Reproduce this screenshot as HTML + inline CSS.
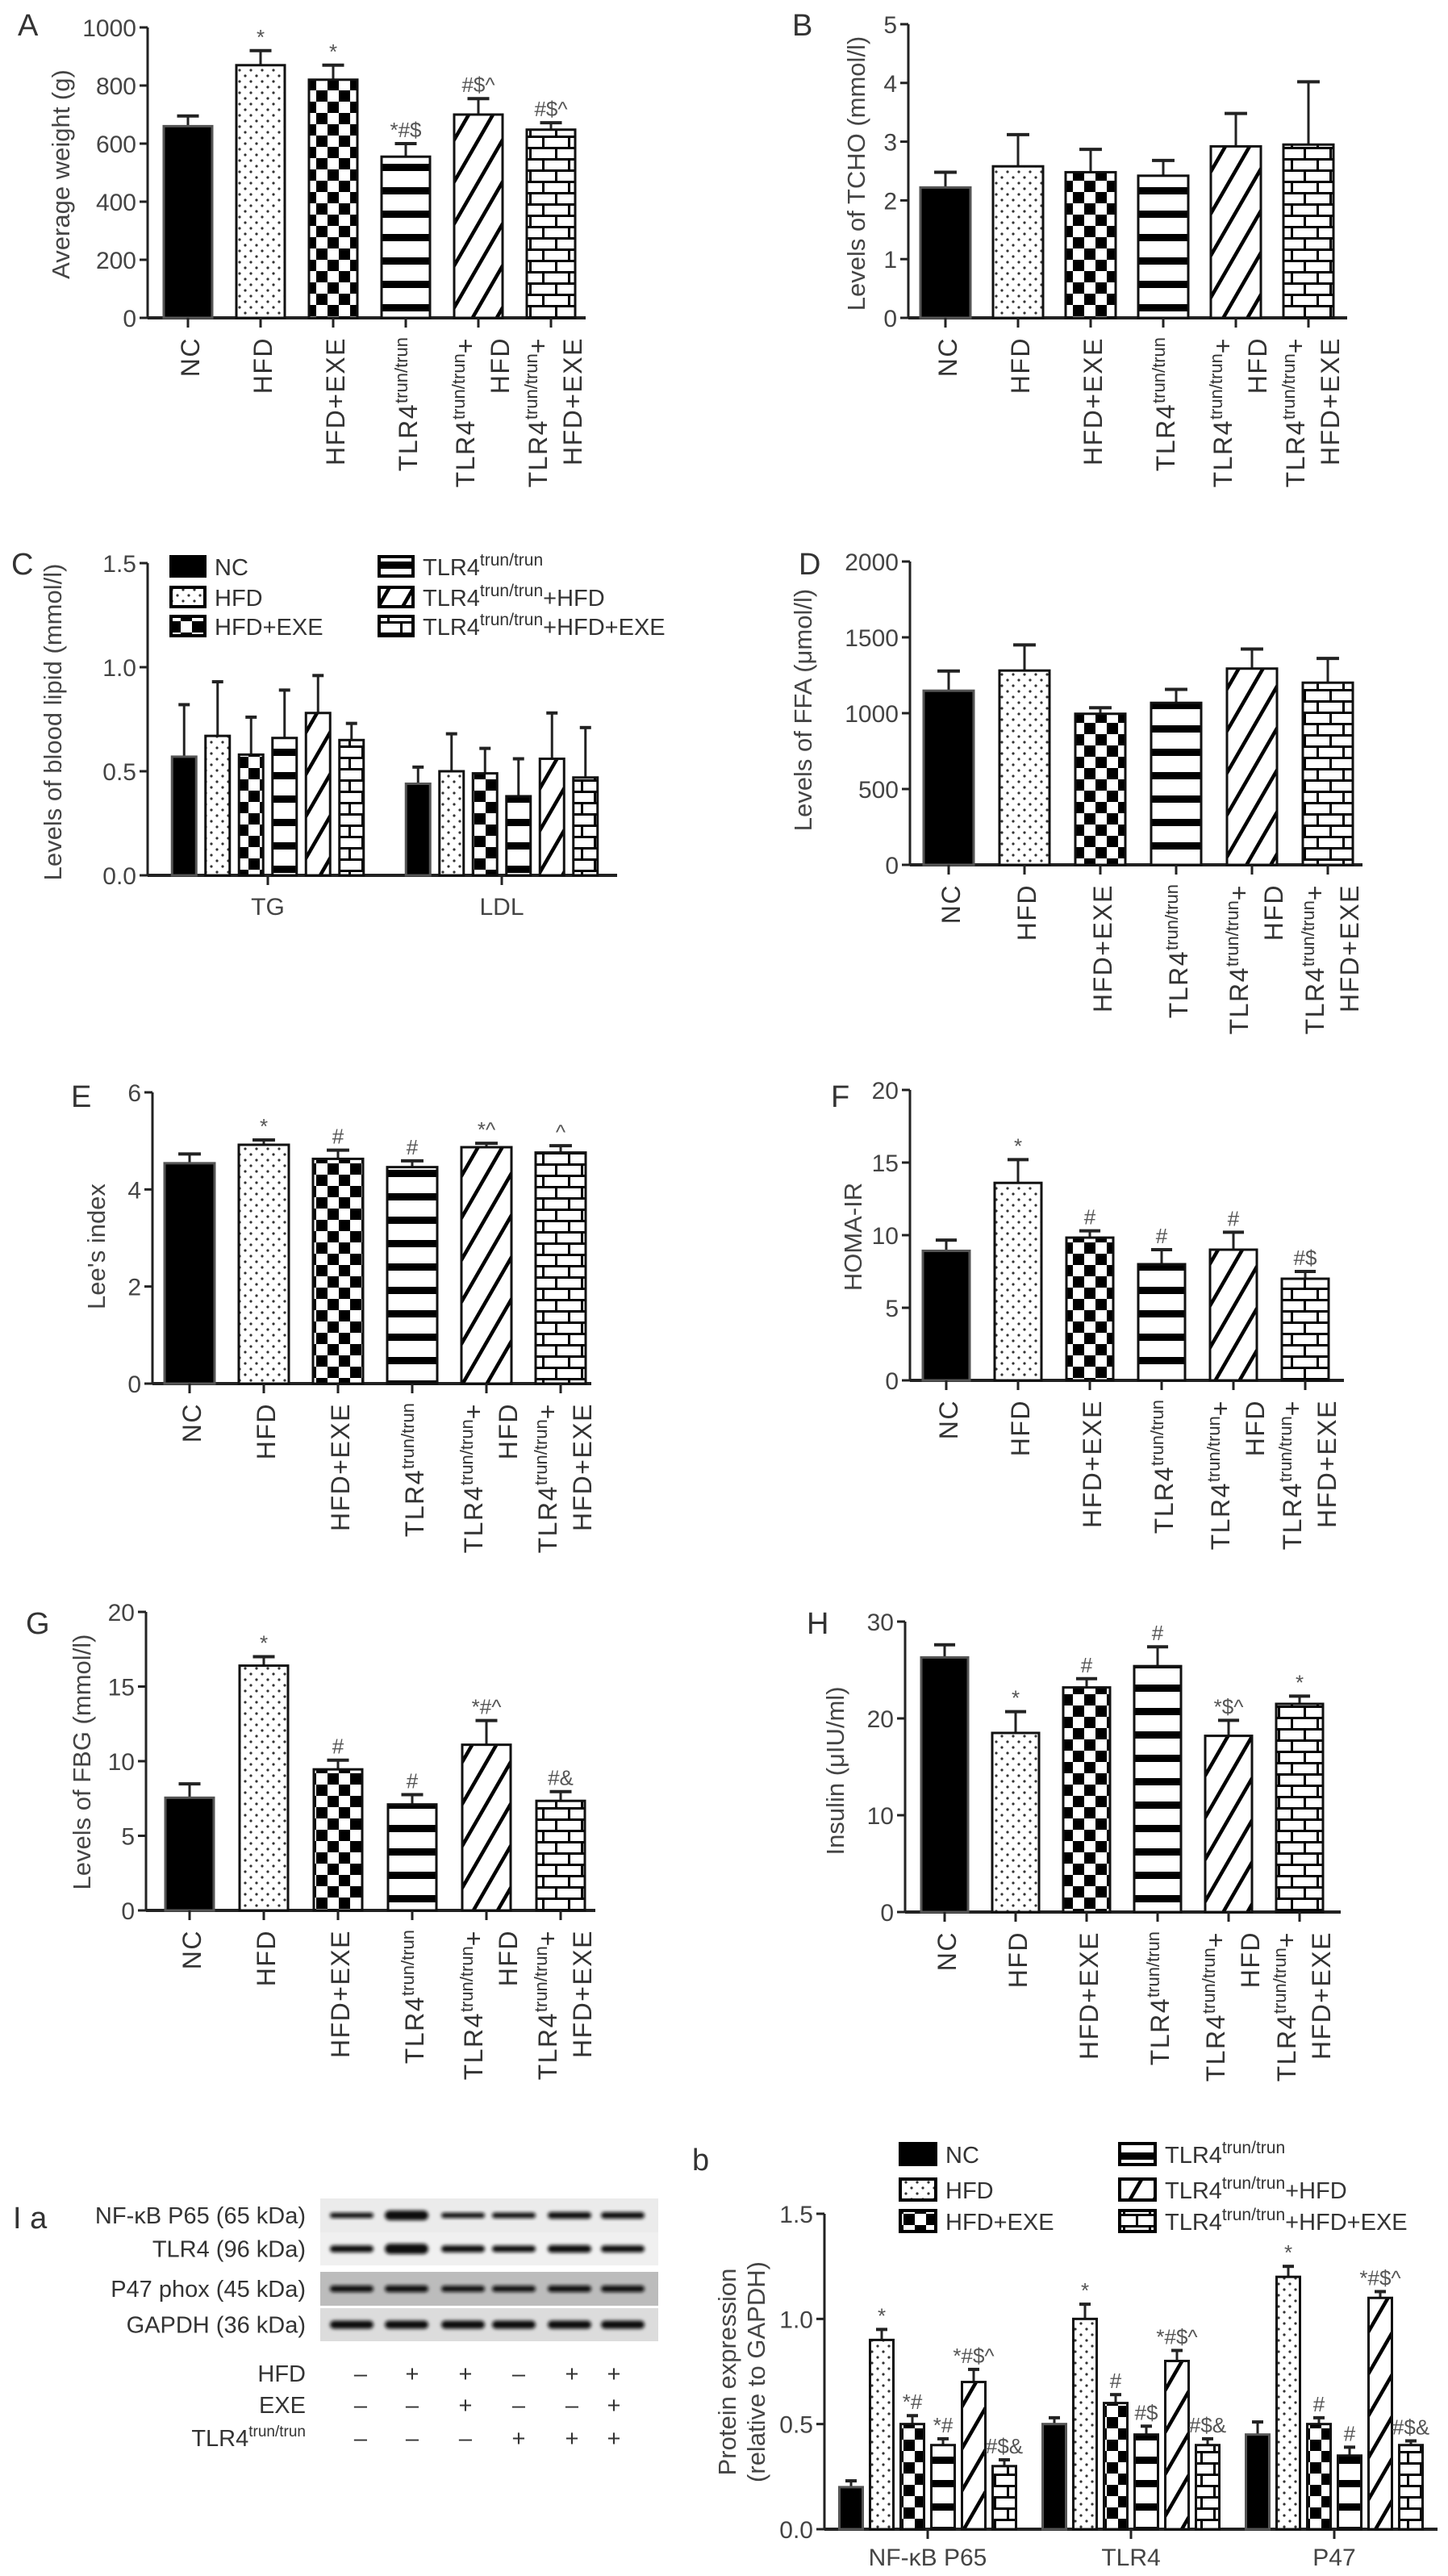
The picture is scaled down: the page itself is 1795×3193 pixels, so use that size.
<!DOCTYPE html>
<html><head><meta charset="utf-8">
<style>
html,body{margin:0;padding:0;background:#fff;}
svg{display:block;font-family:"Liberation Sans",sans-serif;}
.tk{font-size:30px;fill:#444;}
.ttl{font-size:31px;fill:#444;}
.lab{font-size:32px;fill:#333;letter-spacing:1.5px;}
.ann{font-size:26px;fill:#555;}
.pl{font-size:38px;fill:#333;}
.leg{font-size:29px;fill:#333;}
</style></head>
<body>
<svg id="fig" width="1795" height="3193" viewBox="0 0 1795 3193" xmlns="http://www.w3.org/2000/svg">
<defs>
<pattern id="p-dots" patternUnits="userSpaceOnUse" width="14" height="14"><rect width="14" height="14" fill="#fff"/><circle cx="3" cy="3" r="1.6" fill="#333"/><circle cx="10" cy="10" r="1.6" fill="#333"/></pattern>
<pattern id="p-check" patternUnits="userSpaceOnUse" width="28" height="28"><rect width="28" height="28" fill="#fff"/><rect x="0" y="0" width="14" height="14" fill="#000"/><rect x="14" y="14" width="14" height="14" fill="#000"/></pattern>
<pattern id="p-hstripe" patternUnits="userSpaceOnUse" width="20" height="29"><rect width="20" height="29" fill="#fff"/><rect x="0" y="0" width="20" height="9" fill="#000"/></pattern>
<pattern id="p-diag" patternUnits="userSpaceOnUse" width="26" height="26" patternTransform="rotate(30)"><rect width="26" height="26" fill="#fff"/><rect x="0" y="0" width="4.5" height="26" fill="#000"/></pattern>
<pattern id="p-brick" patternUnits="userSpaceOnUse" width="32" height="28"><rect width="32" height="28" fill="#fff"/><rect x="0" y="0" width="32" height="3" fill="#000"/><rect x="0" y="14" width="32" height="3" fill="#000"/><rect x="0" y="0" width="3" height="14" fill="#000"/><rect x="16" y="14" width="3" height="14" fill="#000"/></pattern>
<filter id="blur" x="-20%" y="-50%" width="140%" height="200%"><feGaussianBlur stdDeviation="2"/></filter>
</defs>
<g id="root"></g>
</svg>
<script>
// ---------- data ----------
const groupNames = ["NC","HFD","HFD+EXE","TLR4trun/trun","TLR4trun/trun+HFD","TLR4trun/trun+HFD+EXE"];
const weightVals = [660, 870, 820, 555, 700, 648];
const weightErr = [695, 920, 870, 600, 755, 672];
const weightAnn = ["", "*", "*", "*#$", "#$^", "#$^"];
const weightTicks = [0, 200, 400, 600, 800, 1000];
const tchoVals = [2.22, 2.58, 2.48, 2.42, 2.92, 2.95];
const tchoErr = [2.48, 3.12, 2.87, 2.68, 3.48, 4.02];
const tchoTicks = [0, 1, 2, 3, 4, 5];
const lipidCats = ["TG", "LDL"];
const tgVals = [0.57, 0.67, 0.58, 0.66, 0.78, 0.65];
const tgErr = [0.82, 0.93, 0.76, 0.89, 0.96, 0.73];
const ldlVals = [0.44, 0.50, 0.49, 0.38, 0.56, 0.47];
const ldlErr = [0.52, 0.68, 0.61, 0.56, 0.78, 0.71];
const lipidTicks = ["0.0", "0.5", "1.0", "1.5"];
const ffaVals = [1148, 1281, 996, 1068, 1294, 1201];
const ffaErr = [1278, 1450, 1036, 1157, 1423, 1361];
const ffaTicks = [0, 500, 1000, 1500, 2000];
const leeVals = [4.54, 4.92, 4.63, 4.46, 4.87, 4.76];
const leeErr = [4.73, 5.02, 4.81, 4.59, 4.95, 4.90];
const leeAnn = ["", "*", "#", "#", "*^", "^"];
const leeTicks = [0, 2, 4, 6];
const homaVals = [8.92, 13.6, 9.83, 8.0, 9.0, 7.0];
const homaErr = [9.66, 15.2, 10.3, 9.0, 10.2, 7.5];
const homaAnn = ["", "*", "#", "#", "#", "#$"];
const homaTicks = [0, 5, 10, 15, 20];
const fbgVals = [7.55, 16.4, 9.45, 7.1, 11.1, 7.34];
const fbgErr = [8.48, 17.0, 10.07, 7.76, 12.72, 7.96];
const fbgAnn = ["", "*", "#", "#", "*#^", "#&"];
const fbgTicks = [0, 5, 10, 15, 20];
const insVals = [26.3, 18.5, 23.2, 25.4, 18.2, 21.5];
const insErr = [27.6, 20.7, 24.1, 27.4, 19.8, 22.3];
const insAnn = ["", "*", "#", "#", "*$^", "*"];
const insTicks = [0, 10, 20, 30];
const protCats = ["NF-κB P65", "TLR4", "P47"];
const nfVals = [0.20, 0.90, 0.50, 0.40, 0.70, 0.30];
const nfErr = [0.23, 0.95, 0.54, 0.43, 0.76, 0.33];
const nfAnn = ["", "*", "*#", "*#", "*#$^", "#$&"];
const tlrVals = [0.50, 1.00, 0.60, 0.45, 0.80, 0.40];
const tlrErr = [0.53, 1.07, 0.64, 0.49, 0.85, 0.43];
const tlrAnn = ["", "*", "#", "#$", "*#$^", "#$&"];
const p47Vals = [0.45, 1.20, 0.50, 0.35, 1.10, 0.40];
const p47Err = [0.51, 1.25, 0.53, 0.39, 1.13, 0.42];
const p47Ann = ["", "*", "#", "#", "*#$^", "#$&"];
const protTicks = ["0.0", "0.5", "1.0", "1.5"];
// blot band intensities (relative thickness) per row, 6 lanes
const bandNF = [0.5, 1.3, 0.5, 0.55, 0.75, 0.7];
const bandTLR = [0.8, 1.4, 0.8, 0.7, 0.9, 0.8];
const bandP47 = [0.7, 0.75, 0.65, 0.65, 0.7, 0.7];
const bandGAPDH = [1, 1, 1, 1, 1, 1];
const condHFD = ["–","+","+","–","+","+"];
const condEXE = ["–","–","+","–","–","+"];
const condTLR = ["–","–","–","+","+","+"];

// ---------- helpers ----------
const NS = "http://www.w3.org/2000/svg";
const root = document.getElementById("root");
const fills = ["#000", "url(#p-dots)", "url(#p-check)", "url(#p-hstripe)", "url(#p-diag)", "url(#p-brick)"];
const patNames = ["nc","hfd","hfd-exe","tlr4","tlr4-hfd","tlr4-hfd-exe"];
function mk(tag, attrs, parent) {
  const e = document.createElementNS(NS, tag);
  for (const k in attrs) e.setAttribute(k, attrs[k]);
  (parent || root).appendChild(e);
  return e;
}
function txt(s, attrs, parent) { const t = mk("text", attrs, parent); t.textContent = s; return t; }

function axisY(g, ax, y0, yTop, vMax, ticks) {
  const sc = v => y0 - (v / vMax) * (y0 - yTop);
  const ln = mk("line", {x1: ax, y1: yTop, x2: ax, y2: y0, stroke: "#222", "stroke-width": 3}, g);
  
  
  ticks.forEach(t => {
    const v = parseFloat(t);
    mk("line", {x1: ax - 10, y1: sc(v), x2: ax, y2: sc(v), stroke: "#222", "stroke-width": 3}, g);
    const tl = txt(String(t), {x: ax - 14, y: sc(v) + 11, class: "tk", "text-anchor": "end"}, g);
    
    
  });
  return sc;
}
function bar(g, cx, w, sc, v, e, i, ann, capW) {
  const y = sc(v), y0 = sc(0);
  const el = mk("line", {x1: cx, y1: y, x2: cx, y2: sc(e), stroke: "#222", "stroke-width": 3}, g);
  
  
  mk("line", {x1: cx - capW / 2, y1: sc(e), x2: cx + capW / 2, y2: sc(e), stroke: "#222", "stroke-width": 4}, g);
  const r = mk("rect", {x: cx - w / 2, y: y, width: w, height: y0 - y, fill: fills[i], stroke: i === 0 ? "#555" : "#111", "stroke-width": 3}, g);
  
  
  if (ann) {
    const a = txt(ann, {x: cx, y: sc(e) - 8, class: "ann", "text-anchor": "middle"}, g);
    
    
  }
}
function catLabel(g, cx, ytop, i) {
  const lines = i < 3 ? [[groupNames[i], false]] :
    i === 3 ? [["TLR4", true]] : [["TLR4", true, "+"], [i === 4 ? "HFD" : "HFD+EXE", false]];
  const offs = lines.length === 1 ? [14] : [-5, 38];
  lines.forEach((L, k) => {
    const x = cx + offs[k];
    const t = mk("text", {x: x, y: ytop, class: "lab", "text-anchor": "end", transform: `rotate(-90 ${x} ${ytop})`}, g);
    
    
    const a = mk("tspan", {}, t); a.textContent = L[0];
    if (L[1]) {
      const s = mk("tspan", {dy: -12, "font-size": 22, "letter-spacing": 0}, t); s.textContent = "trun/trun";
      if (L[2]) { const p = mk("tspan", {dy: 12}, t); p.textContent = L[2]; }
    }
  });
}
function yTitle(g, s, x, y) {
  const t = txt(s, {x: x, y: y, class: "ttl", "text-anchor": "middle", transform: `rotate(-90 ${x} ${y})`}, g);
  
  
}
function panelLetter(g, s, x, y) {
  const t = txt(s, {x: x, y: y, class: "pl"}, g);
  
  
}
function groupChart(name, P) {
  const g = mk("g", {});
  
  
  panelLetter(g, P.letter, P.lx, P.ly);
  yTitle(g, P.title, P.tx, P.ty);
  const sc = axisY(g, P.ax, P.y0, P.yTop, P.vMax, P.ticks);
  const xl = mk("line", {x1: P.ax, y1: P.y0, x2: P.xEnd, y2: P.y0, stroke: "#222", "stroke-width": 4}, g);
  
  
  P.vals.forEach((v, i) => {
    const cx = P.c0 + P.step * i;
    bar(g, cx, P.w, sc, v, P.err[i], i, P.ann ? P.ann[i] : "", P.w * 0.45);
    mk("line", {x1: cx, y1: P.y0, x2: cx, y2: P.y0 + 12, stroke: "#222", "stroke-width": 3}, g);
    catLabel(g, cx, P.y0 + 24, i);
  });
}

// ---------- panels A-H ----------
groupChart("panel-a-weight", {letter:"A", lx:22, ly:44, title:"Average weight (g)", tx:86, ty:216,
  ax:183, y0:394, yTop:34, vMax:1000, ticks:weightTicks, xEnd:726, c0:233, step:90, w:60, vals:weightVals, err:weightErr, ann:weightAnn});
groupChart("panel-b-tcho", {letter:"B", lx:982, ly:44, title:"Levels of TCHO (mmol/l)", tx:1072, ty:215,
  ax:1126, y0:394, yTop:30, vMax:5, ticks:tchoTicks, xEnd:1670, c0:1172, step:90, w:62, vals:tchoVals, err:tchoErr});
groupChart("panel-d-ffa", {letter:"D", lx:990, ly:712, title:"Levels of FFA (μmol/l)", tx:1006, ty:880,
  ax:1128, y0:1072, yTop:696, vMax:2000, ticks:ffaTicks, xEnd:1689, c0:1176, step:94, w:62, vals:ffaVals, err:ffaErr});
groupChart("panel-e-lee", {letter:"E", lx:88, ly:1372, title:"Lee's index", tx:130, ty:1545,
  ax:189, y0:1715, yTop:1354, vMax:6, ticks:leeTicks, xEnd:733, c0:235, step:92, w:62, vals:leeVals, err:leeErr, ann:leeAnn});
groupChart("panel-f-homa", {letter:"F", lx:1030, ly:1372, title:"HOMA-IR", tx:1068, ty:1533,
  ax:1128, y0:1711, yTop:1351, vMax:20, ticks:homaTicks, xEnd:1666, c0:1173, step:89, w:58, vals:homaVals, err:homaErr, ann:homaAnn});
groupChart("panel-g-fbg", {letter:"G", lx:32, ly:2025, title:"Levels of FBG (mmol/l)", tx:112, ty:2184,
  ax:181, y0:2368, yTop:1998, vMax:20, ticks:fbgTicks, xEnd:738, c0:235, step:92, w:60, vals:fbgVals, err:fbgErr, ann:fbgAnn});
groupChart("panel-h-insulin", {letter:"H", lx:1000, ly:2025, title:"Insulin (μIU/ml)", tx:1046, ty:2195,
  ax:1122, y0:2370, yTop:2010, vMax:30, ticks:insTicks, xEnd:1662, c0:1171, step:88, w:58, vals:insVals, err:insErr, ann:insAnn});

// ---------- legend helper ----------
function legend(g, x1, x2, ys, box) {
  groupNames.forEach((n, i) => {
    const col = i < 3 ? 0 : 1, row = i % 3;
    const bx = col === 0 ? x1 : x2, y = ys[row];
    const lg = mk("g", {}, g);
    
    
    mk("rect", {x: bx, y: y - box.h / 2, width: box.w, height: box.h, fill: fills[i], stroke: "#000", "stroke-width": 4}, lg);
    const t = mk("text", {x: bx + box.w + 12, y: y + 11, class: "leg"}, lg);
    if (i < 3) t.textContent = n;
    else {
      const a = mk("tspan", {}, t); a.textContent = "TLR4";
      const s = mk("tspan", {dy: -12, "font-size": 21}, t); s.textContent = "trun/trun";
      if (i > 3) { const p = mk("tspan", {dy: 12}, t); p.textContent = i === 4 ? "+HFD" : "+HFD+EXE"; }
    }
  });
}

// ---------- panel C ----------
(function () {
  const g = mk("g", {});
  
  
  panelLetter(g, "C", 14, 712);
  yTitle(g, "Levels of blood lipid (mmol/l)", 76, 895);
  const sc = axisY(g, 183, 1085, 698, 1.5, lipidTicks);
  mk("line", {x1: 183, y1: 1085, x2: 765, y2: 1085, stroke: "#222", "stroke-width": 4}, g);
  const sets = [[tgVals, tgErr], [ldlVals, ldlErr]];
  const gc = [332, 622];
  sets.forEach((S, k) => {
    S[0].forEach((v, i) => {
      const cx = gc[k] + (i - 2.5) * 41.5;
      bar(g, cx, 30, sc, v, S[1][i], i, "", 14);
    });
    mk("line", {x1: gc[k], y1: 1085, x2: gc[k], y2: 1097, stroke: "#222", "stroke-width": 3}, g);
    const t = txt(lipidCats[k], {x: gc[k], y: 1134, class: "tk", "text-anchor": "middle"}, g);
    
    
  });
  legend(g, 212, 470, [702, 740, 776], {w: 42, h: 24});
})();

// ---------- panel I a (western blot) ----------
(function () {
  const g = mk("g", {});
  
  
  txt("I a", {x: 16, y: 2762, class: "pl", "font-size": 40}, g);
  const lanes = [436, 504, 574, 637, 706, 772];
  const rows = [
    {lab: "NF-κB P65 (65 kDa)", y: 2725, h: 42, bg: "#ebebeb", b: bandNF},
    {lab: "TLR4 (96 kDa)", y: 2767, h: 41, bg: "#f0f0f0", b: bandTLR},
    {lab: "P47 phox (45 kDa)", y: 2816, h: 42, bg: "#bcbcbc", b: bandP47},
    {lab: "GAPDH (36 kDa)", y: 2861, h: 41, bg: "#dcdcdc", b: bandGAPDH}];
  rows.forEach(R => {
    const bg = mk("rect", {x: 397, y: R.y, width: 419, height: R.h, fill: R.bg}, g);
    
    
    const t = txt(R.lab, {x: 379, y: R.y + R.h / 2 + 10, class: "leg", "text-anchor": "end", "font-size": 28}, g);
    
    
    R.b.forEach((s, i) => {
      const h = 7 * s + 3;
      mk("rect", {x: lanes[i] - 27, y: R.y + R.h / 2 - h / 2, width: 54, height: h, rx: h / 2, fill: "#111", filter: "url(#blur)"}, g);
    });
  });
  const conds = [["HFD", condHFD, 2952], ["EXE", condEXE, 2991], ["TLR4", condTLR, 3032]];
  const signX = [447, 511, 577, 643, 709, 761];
  conds.forEach((C, k) => {
    const t = mk("text", {x: 379, y: C[2], class: "leg", "text-anchor": "end", "font-size": 27}, g);
    
    
    const a = mk("tspan", {}, t); a.textContent = C[0];
    if (k === 2) { const s = mk("tspan", {dy: -12, "font-size": 19}, t); s.textContent = "trun/trun"; }
    C[1].forEach((s, i) => txt(s, {x: signX[i], y: C[2] - (k === 2 ? 0 : 0), class: "leg", "text-anchor": "middle", "font-size": 26}, g));
  });
})();

// ---------- panel I b ----------
(function () {
  const g = mk("g", {});
  
  
  panelLetter(g, "b", 858, 2690);
  yTitle(g, "Protein expression", 912, 2940);
  yTitle(g, "(relative to GAPDH)", 948, 2940);
  const sc = axisY(g, 1022, 3135, 2744, 1.5, protTicks);
  mk("line", {x1: 1022, y1: 3135, x2: 1782, y2: 3135, stroke: "#222", "stroke-width": 4}, g);
  const sets = [[nfVals, nfErr, nfAnn], [tlrVals, tlrErr, tlrAnn], [p47Vals, p47Err, p47Ann]];
  const gc = [1150, 1402, 1654];
  sets.forEach((S, k) => {
    S[0].forEach((v, i) => {
      const cx = gc[k] + (i - 2.5) * 38;
      bar(g, cx, 29, sc, v, S[1][i], i, S[2][i], 14);
    });
    mk("line", {x1: gc[k], y1: 3135, x2: gc[k], y2: 3147, stroke: "#222", "stroke-width": 3}, g);
    const t = txt(protCats[k], {x: gc[k], y: 3180, class: "tk", "font-size": 28, "text-anchor": "middle"}, g);
    
    
  });
  legend(g, 1116, 1388, [2670, 2714, 2753], {w: 44, h: 26});
})();
</script>
</body></html>
